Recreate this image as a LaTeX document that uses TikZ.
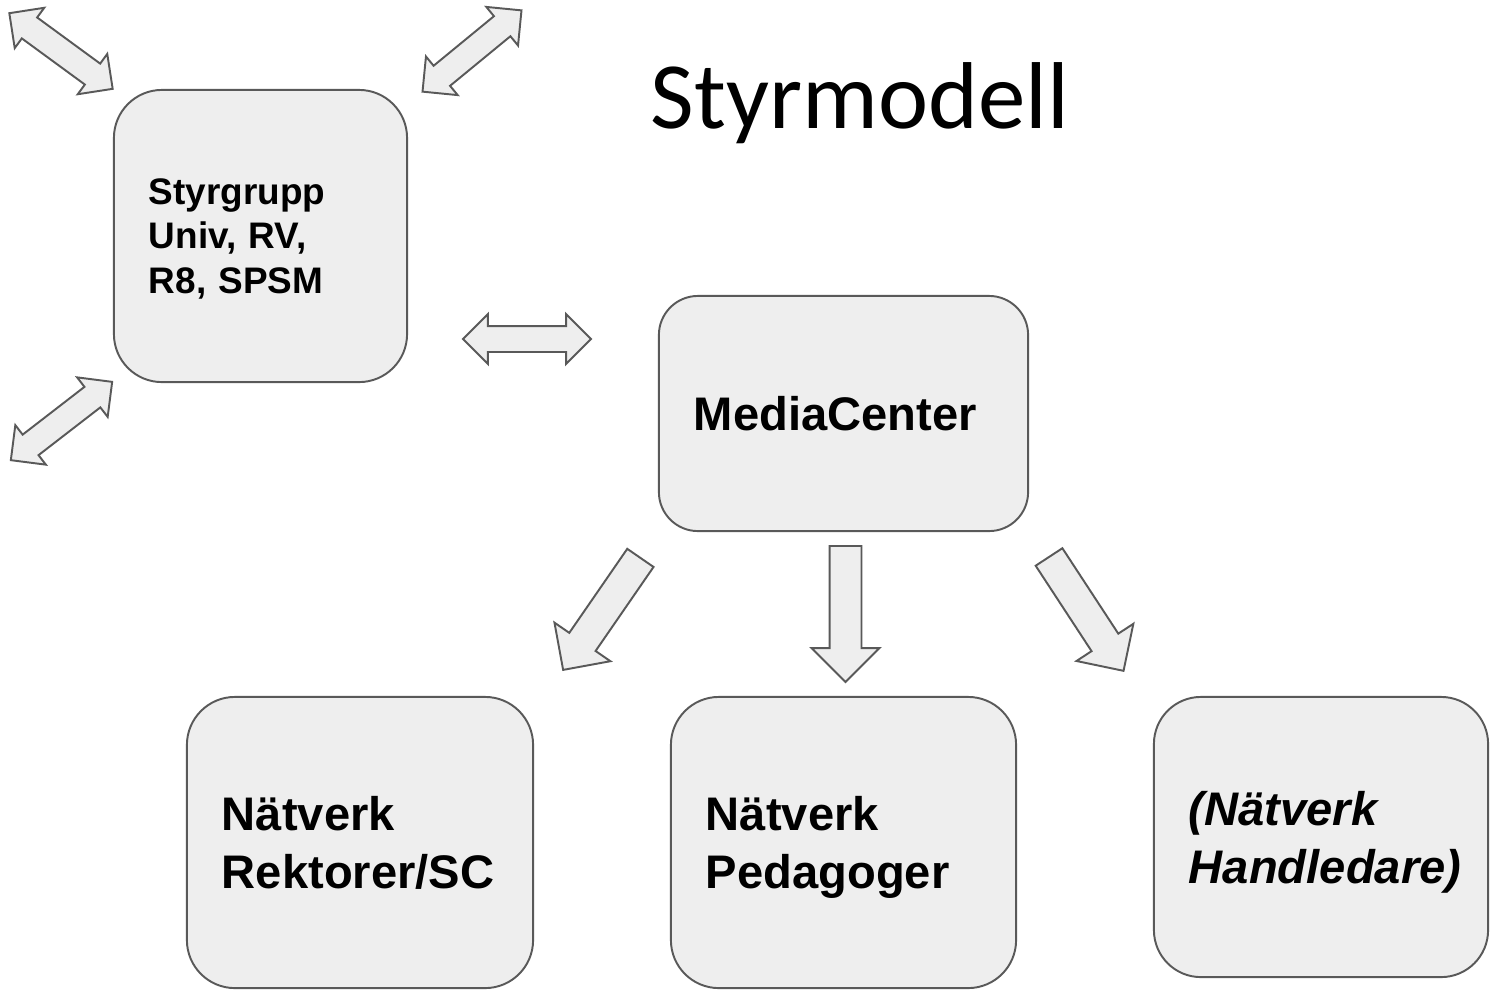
\documentclass[tikz,border=0pt]{standalone}
\usepackage{fontspec}
\setmainfont{Liberation Sans}
\newfontfamily\titlefont{Carlito}
\usetikzlibrary{shapes.arrows}
\definecolor{boxfill}{HTML}{EEEEEE}
\definecolor{boxline}{HTML}{595959}
\hyphenpenalty=10000
\tikzset{
  box/.style={draw=boxline, fill=boxfill, line width=0.55pt, inner xsep=0.35cm, inner ysep=0pt, align=left},
  smalltext/.style={font=\fontsize{10.5}{12.7}\selectfont\bfseries, text depth=25.4pt},
  bigtext/.style={font=\fontsize{13.4}{16.5}\selectfont\bfseries},
  twolines/.style={text depth=16.5pt},
  twoway/.style={double arrow, draw=boxline, fill=boxfill, line width=0.55pt, inner xsep=0pt, inner ysep=0.12cm,
    minimum height=1.28cm, minimum width=0.48cm, double arrow head extend=0.12cm},
  oneway/.style={single arrow, draw=boxline, fill=boxfill, line width=0.55pt, inner xsep=0pt, inner ysep=0.15cm,
    minimum height=1.36cm, minimum width=0.66cm, single arrow head extend=0.18cm},
}

\begin{document}
\begin{tikzpicture}[x=0.01cm, y=-0.01cm]
	\useasboundingbox (0,0) rectangle (1491,990);
	\node[anchor=base west, inner sep=0pt, font=\titlefont\fontsize{27}{32}\selectfont] (title) at (650,128) {Styrmodell};
	% boxes
	\node[box, smalltext, rounded corners=0.48cm, text width=2.23cm, minimum height=2.92cm] (styr) at (260.5,236) {Styrgrupp\\Univ, RV,\\R8, SPSM};
	\node[box, bigtext, rounded corners=0.39cm, text width=2.99cm, minimum height=2.35cm] (media) at (843.5,413.5) {MediaCenter};
	\node[box, bigtext, twolines, rounded corners=0.48cm, text width=2.76cm, minimum height=2.91cm] (rekt) at (360,842.5) {Nätverk\\Rektorer/SC};
	\node[box, bigtext, twolines, rounded corners=0.48cm, text width=2.75cm, minimum height=2.91cm] (peda) at (843.5,842.5) {Nätverk\\Pedagoger};
	\node[box, bigtext, twolines, rounded corners=0.47cm, text width=2.64cm, minimum height=2.80cm, font=\fontsize{13.4}{16.5}\selectfont\bfseries\itshape] (handl) at (1321,837) {(Nätverk\\Handledare)};
	% arrows
	\node[twoway, rotate=-36.2] (nwlink) at (61,51) {};
	\node[twoway, rotate=39.4] (nelink) at (472,51) {};
	\node[twoway, rotate=37.7] (swlink) at (61.5,421) {};
	\node[twoway] (medialink) at (527,339) {};
	\node[oneway, rotate=-124.6] (torekt) at (606.3,607.3) {};
	\node[oneway, rotate=-90] (topeda) at (845.5,606) {};
	\node[oneway, rotate=-56.8] (tohandl) at (1081.9,607.2) {};
\end{tikzpicture}
\end{document}
